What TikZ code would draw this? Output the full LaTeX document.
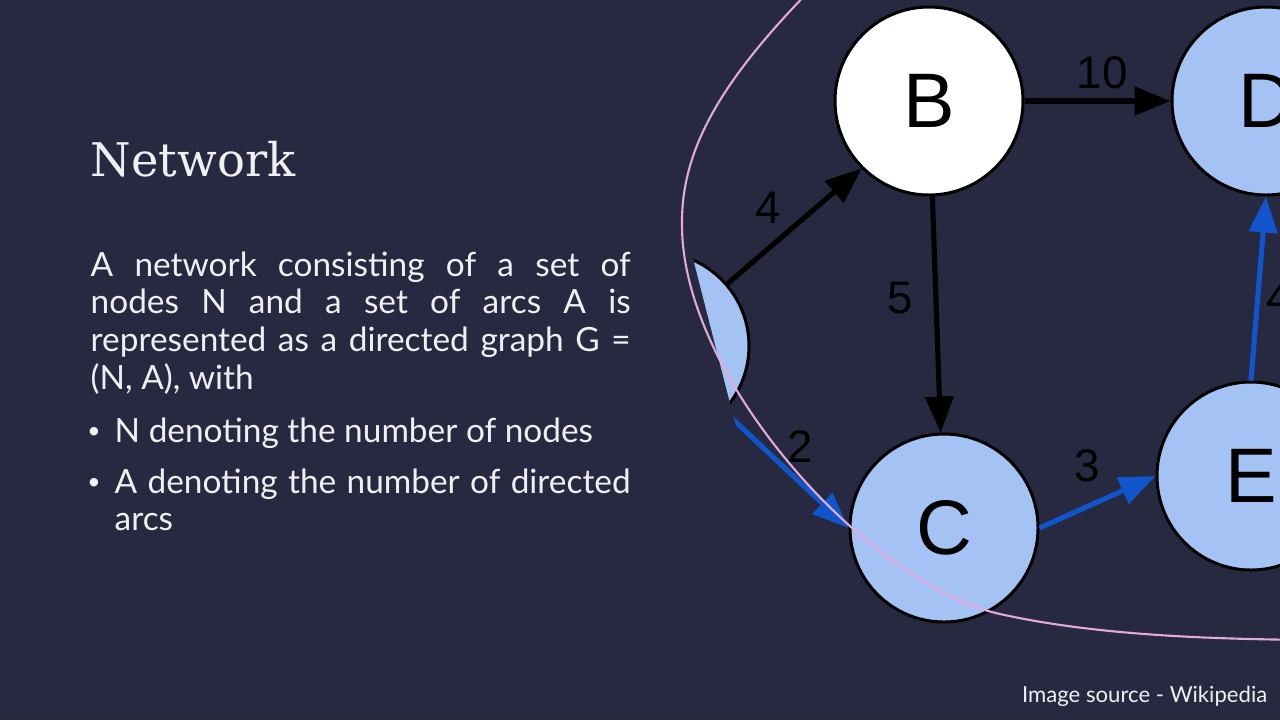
\documentclass[tikz,border=0pt]{standalone}
\usepackage{fontspec}
\newfontfamily\titlefont{DejaVu Serif}
\newfontfamily\bodyfont{Lato}
\newfontfamily\graphfont{Liberation Sans}
\definecolor{slide}{HTML}{262940}
\definecolor{nodeblue}{HTML}{A4C2F4}
\definecolor{arcblue}{HTML}{1155CC}
\definecolor{ringpink}{HTML}{E2A9DA}
\definecolor{paper}{HTML}{F0F0F4}
\usetikzlibrary{arrows.meta}
\tikzstyle{netnode} = [circle, draw=black, line width=0.85pt, minimum size=18.8mm, font=\graphfont\fontsize{22}{22}\selectfont]
\tikzstyle{whitenode} = [netnode, fill=white]
\tikzstyle{bluenode} = [netnode, fill=nodeblue]
\tikzstyle{blackarc} = [line width=1.45pt, black, -{Triangle[length=3.6mm,width=2.8mm]}]
\tikzstyle{bluearc} = [blackarc, arcblue]
\tikzstyle{weight} = [black, font=\graphfont\fontsize{13}{13}\selectfont]
\tikzstyle{bodytext} = [paper, anchor=base west, align=justify, font=\bodyfont\fontsize{9.5}{10.8}\selectfont]
\newcommand{\dotmark}{\llap{\raisebox{0.22ex}{\fontsize{6.5}{6.5}\selectfont\textbullet}\hspace{1.4mm}}}

\begin{document}
\begin{tikzpicture}[
  x=0.1mm, y=-0.1mm,
  every node/.style={inner sep=0pt},
]
\fill[slide] (0,0) rectangle (1280,720);
\useasboundingbox (0,0) rectangle (1280,720);

% slide text
\node[paper, anchor=base west, font=\titlefont\fontsize{13.2}{16}\selectfont] (title) at (90,176) {Network};
\node[bodytext, text width=54mm] (intro) at (90,276)
  {A network consisting of a set of\linebreak nodes N and a set of arcs A is\linebreak represented as a directed graph G =\linebreak (N, A), with};
\node[bodytext, text width=51.6mm] (itemN) at (114,442)
  {\dotmark N denoting the number of nodes};
\node[bodytext, text width=51.6mm] (itemA) at (114,493)
  {\dotmark A denoting the number of directed\linebreak arcs};
\node[paper, anchor=base east, font=\bodyfont\fontsize{6.3}{8}\selectfont] (credit) at (1268,702) {Image source - Wikipedia};

\begin{scope}
\clip (0,0) rectangle (1280,720);
\node[whitenode] (B) at (929,101) {B};
\node[bluenode] (D) at (1266,101) {D};
\node[bluenode] (C) at (944,528) {C};
\node[bluenode] (E) at (1251,476) {E};

% A only shows a slice
\begin{scope}
\clip (627,0) -- (1280,0) -- (1280,720) -- (811,720) -- cycle;
\node[bluenode] (A) at (655,346) {};
\draw[blackarc] (A) -- (B.south west);
\draw[bluearc] (A) -- (C.west);
\end{scope}

\draw[blackarc] (B) -- (D);
\draw[blackarc] (B) -- (C);
\draw[bluearc] (C.east) -- (E.west);
\draw[bluearc] (E.north) -- (D.south);

\node[weight] (w4) at (768,208) {4};
\node[weight] (w10) at (1102,73) {10};
\node[weight] (w5) at (900,298) {5};
\node[weight] (w2) at (800,447) {2};
\node[weight] (w3) at (1087,466) {3};
\node[weight, anchor=west] (w4b) at (1266,298) {4};

\draw[ringpink, line width=0.6pt] (820,-20)
  .. controls (720,80) and (681,150) .. (682,225)
  .. controls (682,380) and (870,585) .. (1000,614)
  .. controls (1090,634) and (1200,640) .. (1340,640);
\end{scope}
\end{tikzpicture}
\end{document}
